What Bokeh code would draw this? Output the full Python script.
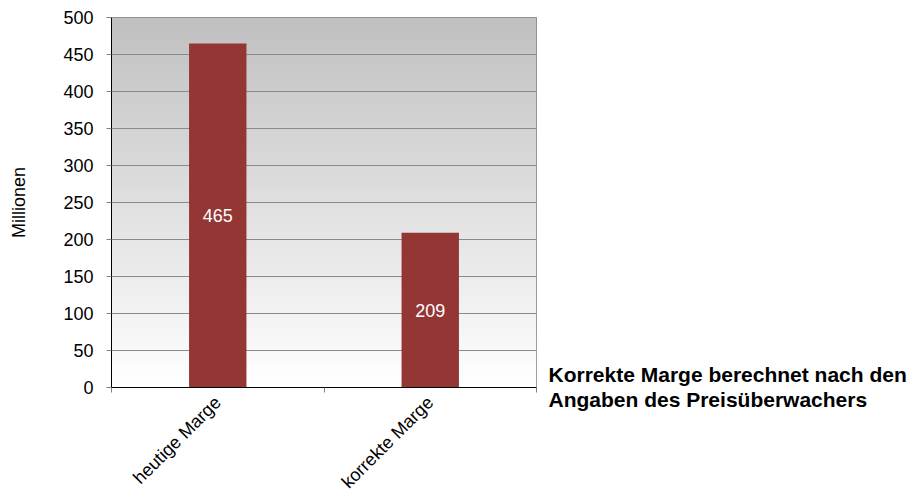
import numpy as np
from bokeh.plotting import figure
from bokeh.layouts import row
from bokeh.models import Range1d, FixedTicker, Title
from bokeh.embed import file_html
from bokeh.resources import INLINE
from bokeh.core.properties import value

# ---- data ----
categories = ["heutige Marge", "korrekte Marge"]
values = [465, 209]
y_ticks = [0, 50, 100, 150, 200, 250, 300, 350, 400, 450, 500]
y_label = "Millionen"
note_lines = ["Korrekte Marge berechnet nach den", "Angaben des Preisüberwachers"]

FONT = "Liberation Sans"
BAR = "#943634"

n_cat = len(categories)
xs = [i + 0.5 for i in range(n_cat)]
y_max = y_ticks[-1]

W1, W2, H = 540, 375, 502
B_TOP, B_BOTTOM = 17, 113

p = figure(width=W1, height=H, output_backend="svg", toolbar_location=None,
           x_range=Range1d(0, n_cat), y_range=Range1d(0, y_max),
           min_border_left=111, min_border_top=B_TOP, min_border_right=4,
           min_border_bottom=B_BOTTOM, background_fill_color="white",
           border_fill_color="white")

# gradient plot-area background (white at bottom -> grey at top)
n = 256
t = np.linspace(0.0, 1.0, n)
g = np.round(255 - t * (255 - 192)).astype(np.uint8)
img = np.empty((n, 1), dtype=np.uint32)
view = img.view(dtype=np.uint8).reshape((n, 1, 4))
view[:, 0, 0] = g
view[:, 0, 1] = g
view[:, 0, 2] = g
view[:, 0, 3] = 255
p.image_rgba(image=[img], x=0, y=0, dw=n_cat, dh=y_max, level="image")

# bars
p.vbar(x=xs, top=values, width=0.27, fill_color=BAR, line_color=None)

# value labels inside bars
p.text(x=xs, y=[v / 2 for v in values], text=[str(v) for v in values],
       text_align="center", text_baseline="middle", text_color="white",
       text_font_size="18px", text_font=value(FONT))

# grid / outline
p.xgrid.visible = False
p.ygrid.grid_line_color = "#8a8a8a"
p.ygrid.grid_line_width = 1
p.outline_line_color = "#808080"

# x axis
p.xaxis.ticker = FixedTicker(ticks=xs, minor_ticks=list(range(n_cat + 1)))
p.xaxis.major_label_overrides = {x: c for x, c in zip(xs, categories)}
p.xaxis.major_label_orientation = np.pi / 4
p.xaxis.major_tick_in = 0
p.xaxis.major_tick_out = 0
p.xaxis.minor_tick_in = 0
p.xaxis.minor_tick_out = 5
p.xaxis.minor_tick_line_color = "#808080"
p.xaxis.axis_line_color = "black"
p.xaxis.major_label_standoff = 7
p.xaxis.major_label_text_font = FONT
p.xaxis.major_label_text_font_size = "18px"
p.xaxis.major_label_text_color = "black"

# y axis
p.yaxis.ticker = FixedTicker(ticks=y_ticks, minor_ticks=[])
p.yaxis.major_tick_in = 0
p.yaxis.major_tick_out = 5
p.yaxis.major_tick_line_color = "#808080"
p.yaxis.minor_tick_line_color = None
p.yaxis.axis_line_color = "black"
p.yaxis.major_label_standoff = 13
p.yaxis.major_label_text_font = FONT
p.yaxis.major_label_text_font_size = "18px"
p.yaxis.major_label_text_color = "black"
p.yaxis.axis_label = y_label
p.yaxis.axis_label_text_font = FONT
p.yaxis.axis_label_text_font_size = "18px"
p.yaxis.axis_label_text_font_style = "normal"
p.yaxis.axis_label_text_color = "black"
p.yaxis.axis_label_standoff = 31

# side note panel: its frame is aligned with the chart frame, so map it to
# page pixel coordinates (y measured from the top of the page)
q = figure(width=W2, height=H, output_backend="svg", toolbar_location=None,
           title=None,
           x_range=Range1d(0, W2), y_range=Range1d(H - B_BOTTOM, B_TOP),
           x_axis_location=None, y_axis_location=None,
           min_border_left=0, min_border_right=0, min_border_top=B_TOP,
           min_border_bottom=B_BOTTOM, outline_line_color=None,
           background_fill_color="white", border_fill_color="white")
q.grid.visible = False
q.text(x=[8], y=[376], text=[note_lines[0]], text_font=value(FONT),
       text_font_size="21px", text_font_style="bold", text_color="black",
       text_align="left", text_baseline="alphabetic")
q.add_layout(Title(text=note_lines[1], align="left", offset=8, standoff=0,
                   vertical_align="top", text_font=FONT,
                   text_font_size="21px", text_font_style="bold",
                   text_color="black", text_line_height=1.0), "below")

layout = row(p, q, spacing=0)
open("out.html", "w").write(file_html(layout, INLINE))
